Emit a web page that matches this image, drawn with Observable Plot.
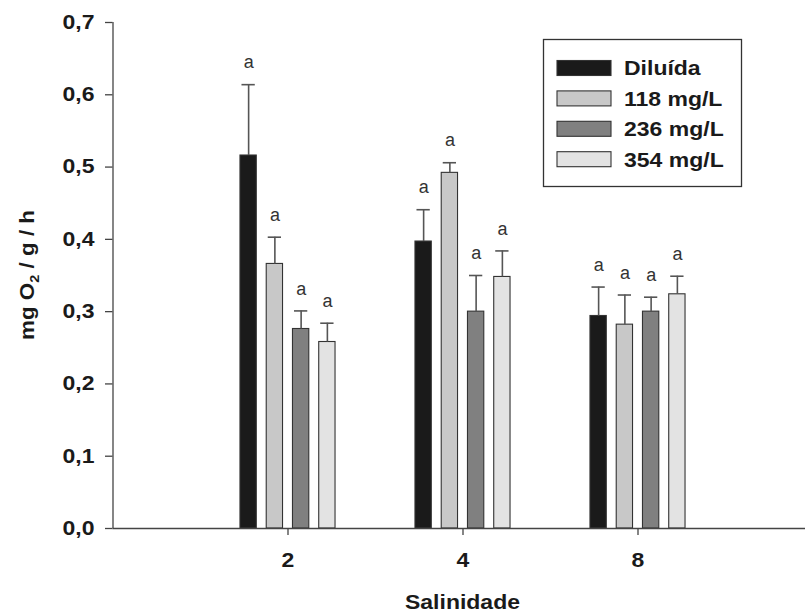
<!DOCTYPE html>
<html>
<head>
<meta charset="utf-8">
<script src="https://cdn.jsdelivr.net/npm/d3@7"></script>
<script src="https://cdn.jsdelivr.net/npm/@observablehq/plot@0.6"></script>
<style>
  html, body { margin: 0; padding: 0; background: white; overflow: hidden; }
</style>
</head>
<body>
<div id="chart"></div>
<script>
// ---- data ----
const salinities = ["2", "4", "8"];
const series = ["Diluída", "118 mg/L", "236 mg/L", "354 mg/L"];
const colors = ["#1a1a1a", "#c8c8c8", "#808080", "#e3e3e3"];

const meanDiluida = [0.516, 0.397, 0.294];
const mean118     = [0.366, 0.492, 0.282];
const mean236     = [0.276, 0.300, 0.300];
const mean354     = [0.258, 0.348, 0.324];

const errDiluida = [0.098, 0.044, 0.040];
const err118     = [0.037, 0.014, 0.041];
const err236     = [0.025, 0.050, 0.020];
const err354     = [0.026, 0.036, 0.025];

const letters = [
  ["a", "a", "a"],
  ["a", "a", "a"],
  ["a", "a", "a"],
  ["a", "a", "a"]
];

const yTicks = [0, 0.1, 0.2, 0.3, 0.4, 0.5, 0.6, 0.7];
const yLabel = ["mg O", "2", " / g / h"];
const xLabel = "Salinidade";

// ---- table ----
const means = [meanDiluida, mean118, mean236, mean354];
const errs = [errDiluida, err118, err236, err354];
const data = salinities.flatMap((s, gi) =>
  series.map((name, si) => ({
    sal: s, series: name, gi, si,
    value: means[si][gi], err: errs[si][gi], letter: letters[si][gi]
  }))
);

const step = 0.15, half = 0.0466, cap = 0.038;
const xc = d => d.gi + 1 + (d.si - 1.5) * step;
const FONT = "'Liberation Sans', Arial, Helvetica, sans-serif";
const STRETCH = "scale(1.15,1)";

const svg = Plot.plot({
  width: 805,
  height: 615,
  marginTop: 22,
  marginBottom: 87,
  marginLeft: 112.5,
  marginRight: 0,
  x: {type: "linear", domain: [0, 4], range: [112.5, 812.5]},
  y: {domain: [0, 0.7], range: [528, 22]},
  color: {domain: series, range: colors},
  style: {fontFamily: FONT, background: "white", color: "#1a1a1a"},
  marks: [
    Plot.rectY(data, {
      x1: d => xc(d) - half, x2: d => xc(d) + half,
      y1: 0, y2: "value", fill: "series",
      stroke: "#333", strokeWidth: 1.1
    }),
    Plot.ruleX(data, {x: xc, y1: "value", y2: d => d.value + d.err, stroke: "#555", strokeWidth: 1.6}),
    Plot.ruleY(data, {y: d => d.value + d.err, x1: d => xc(d) - cap, x2: d => xc(d) + cap, stroke: "#555", strokeWidth: 1.6}),
    Plot.text(data, {
      x: xc, y: d => d.value + d.err, text: "letter",
      dy: -22, fontSize: 18, fill: "#333", textAnchor: "middle"
    }),
    Plot.axisY({
      ticks: yTicks, tickFormat: d => d.toFixed(1).replace(".", ","),
      tickSize: 7.5, tickPadding: 11, fontSize: 20, fontWeight: "bold",
      label: null, stroke: "#444", strokeWidth: 1.3, fill: "#1a1a1a"
    }),
    Plot.axisX({
      ticks: [1, 2, 3], tickFormat: i => salinities[i - 1],
      tickSize: 7, tickPadding: 17, fontSize: 20, fontWeight: "bold",
      label: null, stroke: "#444", strokeWidth: 1.3, fill: "#1a1a1a"
    }),
    Plot.ruleX([0], {y1: 0, y2: 0.7, stroke: "#444", strokeWidth: 1.3}),
    Plot.ruleY([0], {x1: 0, x2: 4, stroke: "#444", strokeWidth: 1.3})
  ]
});

document.getElementById("chart").appendChild(svg);

const s = d3.select(svg);
s.selectAll('g[aria-label="y-axis tick label"] text, g[aria-label="x-axis tick label"] text')
  .attr("transform", function () {
    const t = this.getAttribute("transform") || "";
    return t + " " + STRETCH;
  });

function boldText(sel) {
  return sel.attr("font-family", FONT)
    .attr("font-size", 20)
    .attr("font-weight", "bold")
    .attr("fill", "#1a1a1a");
}

// y axis title with subscript
const yt = boldText(s.append("text"))
  .attr("transform", "translate(34,275) rotate(-90) scale(1.12,1)")
  .attr("text-anchor", "middle");
yt.append("tspan").text(yLabel[0]);
yt.append("tspan").attr("font-size", 13).attr("dy", 5).text(yLabel[1]);
yt.append("tspan").attr("dy", -5).text(yLabel[2]);

// x axis title
boldText(s.append("text"))
  .attr("transform", "translate(462.5,609) " + STRETCH)
  .attr("text-anchor", "middle")
  .text(xLabel);

// legend
const lg = s.append("g");
lg.append("rect")
  .attr("x", 543.5).attr("y", 39.5).attr("width", 198).attr("height", 147)
  .attr("fill", "white").attr("stroke", "#333").attr("stroke-width", 1.3);
series.forEach((name, i) => {
  const cy = 68 + i * 30.4;
  lg.append("rect")
    .attr("x", 557).attr("y", cy - 7.5).attr("width", 54).attr("height", 15)
    .attr("fill", colors[i]).attr("stroke", "#333").attr("stroke-width", 1.1);
  boldText(lg.append("text"))
    .attr("transform", `translate(624,${cy + 7.3}) ${STRETCH}`)
    .attr("text-anchor", "start")
    .text(name);
});
</script>
</body>
</html>
